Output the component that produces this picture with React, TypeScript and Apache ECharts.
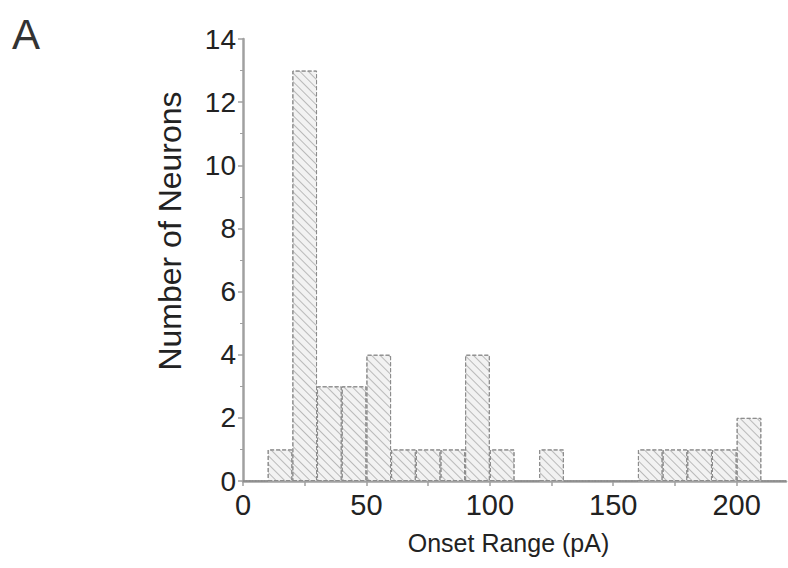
import React, { useEffect, useRef } from 'react';
import * as echarts from 'echarts';

// Histogram bins (width 10 pA), starting at 0 pA
const binLabels = [
  '0-10', '10-20', '20-30', '30-40', '40-50', '50-60', '60-70', '70-80',
  '80-90', '90-100', '100-110', '110-120', '120-130', '130-140', '140-150',
  '150-160', '160-170', '170-180', '180-190', '190-200', '200-210', '210-220',
];
const neuronCounts = [0, 1, 13, 3, 3, 4, 1, 1, 1, 4, 1, 0, 1, 0, 0, 0, 1, 1, 1, 1, 2, 0];
const xTickLabels = [0, 50, 100, 150, 200];
const xTickMarks = [0, 25, 50, 75, 100, 125, 150, 175, 200];
const yMin = 0;
const yMax = 14;
const yInterval = 2;
const xMin = 0;
const xMax = 220;

const FONT = '"Liberation Sans", Arial, Helvetica, sans-serif';
const TEXT = '#222222';
const AXIS = '#a0a0a0';

export default function App() {
  const ref = useRef<HTMLDivElement>(null);
  useEffect(() => {
    if (!ref.current) return;
    const chart = echarts.init(ref.current, undefined, { renderer: 'svg' });
    chart.setOption({
      animation: false,
      backgroundColor: '#ffffff',
      grid: { left: 243, top: 39, right: 2, bottom: 87 },
      xAxis: [
        {
          type: 'value',
          min: xMin,
          max: xMax,
          position: 'bottom',
          axisLine: { show: true, lineStyle: { color: AXIS, width: 2.5 } },
          axisTick: { show: true, customValues: xTickMarks, length: 5, lineStyle: { color: AXIS, width: 1.5 } },
          axisLabel: { customValues: xTickLabels, fontSize: 29, margin: 9, color: TEXT, fontFamily: FONT },
          splitLine: { show: false },
          name: 'Onset Range (pA)',
          nameLocation: 'middle',
          nameGap: 49,
          nameTextStyle: { fontSize: 25, color: TEXT, fontFamily: FONT, padding: [0, 12, 0, 0] },
        },
        {
          type: 'category',
          data: binLabels,
          show: false,
          boundaryGap: true,
        },
      ],
      yAxis: {
        type: 'value',
        min: yMin,
        max: yMax,
        interval: yInterval,
        axisLine: { show: true, lineStyle: { color: AXIS, width: 2.5 } },
        axisTick: { show: true, length: 5, lineStyle: { color: AXIS, width: 1.5 } },
        minorTick: { show: true, splitNumber: 2, length: 3, lineStyle: { color: AXIS, width: 1 } },
        axisLabel: { fontSize: 28, margin: 7, color: TEXT, fontFamily: FONT },
        splitLine: { show: false },
      },
      graphic: [
        {
          type: 'text',
          left: 12,
          top: 13,
          style: { text: 'A', fontSize: 42, fill: '#333333', fontFamily: FONT },
        },
        {
          type: 'text',
          x: 170,
          y: 231,
          rotation: Math.PI / 2,
          style: {
            text: 'Number of Neurons',
            fontSize: 32,
            fill: TEXT,
            fontFamily: FONT,
            align: 'center',
            verticalAlign: 'middle',
          },
        },
      ],
      series: [
        {
          type: 'bar',
          xAxisIndex: 1,
          yAxisIndex: 0,
          data: neuronCounts,
          barWidth: '100%',
          barCategoryGap: 0,
          itemStyle: {
            color: '#f2f2f2',
            borderColor: '#8c8c8c',
            borderWidth: 1,
            borderType: 'dashed',
            decal: {
              symbol: 'rect',
              symbolSize: 1,
              dashArrayX: [1, 0],
              dashArrayY: [1, 5],
              rotation: Math.PI / 4,
              color: 'rgba(130,130,130,0.5)',
            },
          },
        },
      ],
    });
    return () => chart.dispose();
  }, []);
  return (
    <div
      ref={ref}
      style={{ position: 'fixed', left: 0, top: 0, width: 788, height: 568, background: '#fff' }}
    />
  );
}
